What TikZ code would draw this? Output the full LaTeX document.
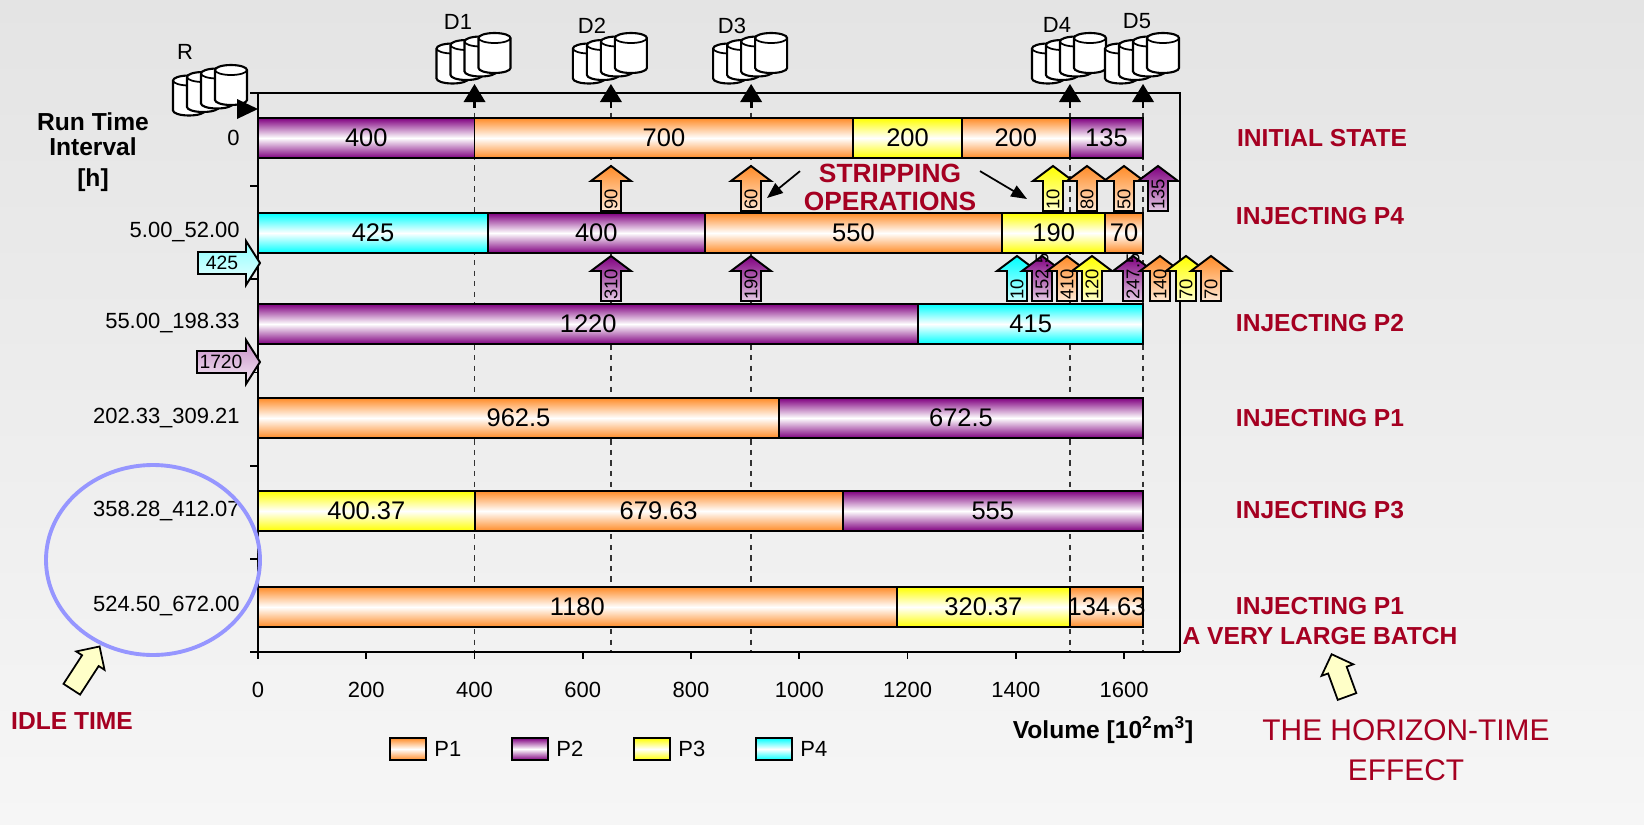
\documentclass[tikz,border=0pt]{standalone}
\usepackage{fontspec}
\setmainfont{Liberation Sans}
\usetikzlibrary{shapes,arrows.meta}

\definecolor{pone}{RGB}{255,140,40}
\definecolor{ptwo}{RGB}{128,0,128}
\definecolor{pthree}{RGB}{255,255,0}
\definecolor{pfour}{RGB}{0,255,255}
\definecolor{darkred}{RGB}{165,0,33}
\definecolor{ringblue}{RGB}{150,150,255}
\definecolor{paleyellow}{RGB}{255,255,200}
\definecolor{bgtop}{RGB}{228,228,228}
\definecolor{bgbottom}{RGB}{246,246,246}

\newcommand{\strip}[5]{%
  \draw[strip=#4] (#2,#3) -- ++(20,15) -- ++(-10,0) -- ++(0,30) -- ++(-20,0) -- ++(0,-30) -- ++(-10,0) -- cycle;
  \node[striplbl] (#1) at (#2,#3+44) {#5};
}

\tikzset{tank/.pic={
  \foreach \k in {3,2,1,0} {
    \draw[line width=1.2pt, fill=white, shift={(-14*\k,3.5*\k)}] (-16,0) -- (-16,-30) arc[start angle=180, end angle=360, x radius=16, y radius=5] -- (16,0) arc[start angle=0, end angle=180, x radius=16, y radius=5] -- cycle;
    \draw[line width=1pt, shift={(-14*\k,3.5*\k)}] (-16,-30) arc[start angle=180, end angle=0, x radius=16, y radius=5];
  }
}}

\begin{document}
\begin{tikzpicture}[x=0.02cm, y=-0.02cm,
  batch/.style={draw=black, line width=1.1pt, top color=#1, bottom color=#1, middle color=white},
  strip/.style={draw=black, line width=1.1pt, top color=#1, bottom color=#1!20},
  inject/.style={draw=black, line width=1.1pt, top color=#1!45, bottom color=#1!8},
  gridline/.style={dashed, line width=1pt, black!80},
  striplbl/.style={rotate=90, anchor=west, inner sep=0pt, font=\fontsize{10.5}{12}\selectfont},
  injectlbl/.style={inner sep=0pt, font=\fontsize{11}{12}\selectfont},
  barlbl/.style={inner sep=0pt, font=\fontsize{14.5}{16}\selectfont},
  rowlbl/.style={anchor=east, inner sep=0pt, font=\fontsize{12.5}{14}\selectfont},
  ticklbl/.style={inner sep=0pt, font=\fontsize{12.5}{14}\selectfont},
  depotlbl/.style={inner sep=0pt, font=\fontsize{12.5}{15}\selectfont},
  legendlbl/.style={anchor=west, inner sep=0pt, font=\fontsize{12.5}{14}\selectfont},
  statelbl/.style={text=darkred, align=center, inner sep=0pt, font=\bfseries\fontsize{14}{17}\selectfont},
  axistitle/.style={align=center, inner sep=0pt, font=\bfseries\fontsize{14}{14}\selectfont},
  blockarrow/.style={single arrow, draw=black, line width=1pt, fill=paleyellow, inner sep=0.18cm, single arrow head extend=0.14cm, minimum height=1.02cm},
  notearrow/.style={-{Triangle[length=9pt,width=7pt]}, line width=1pt}]

  \shade[top color=bgtop, bottom color=bgbottom] (0,0) rectangle (1644,825);
  \useasboundingbox (0,0) rectangle (1644,825);

  \foreach \v in {400,652,911,1500,1635}
    \draw[gridline] ({258+0.5413*\v},102) -- ({258+0.5413*\v},652);

  \draw[line width=0.8pt] (258,93) -- (1180,93) -- (1180,652);
  \draw[line width=1.6pt] (258,93) -- (258,652) -- (1180,652);
  \foreach \k in {0,...,6}
    \draw[line width=1pt] (258,{93+93.17*\k}) -- ++(-8,0);

  \pic at (231,100) {tank};
  \fill (258,109) -- ++(-21,-10) -- ++(0,20) -- cycle;
  \node[depotlbl] (lblR) at (185,52) {R};
  \foreach \v/\n/\lx/\ly in {400/D1/458/22, 652/D2/592/26, 911/D3/732/26, 1500/D4/1057/25, 1635/D5/1137/21} {
    \pic at ({278+0.5413*\v},68) {tank};
    \fill ({258+0.5413*\v},84) -- ++(11,18) -- ++(-22,0) -- cycle;
    \draw[line width=1.6pt] ({258+0.5413*\v},100) -- ++(0,8);
    \node[depotlbl] (lbl\n) at (\lx,\ly) {\n};
  }

  \foreach \y/\segs [count=\i] in {
      118/{0/400/ptwo/400, 400/1100/pone/700, 1100/1300/pthree/200, 1300/1500/pone/200, 1500/1635/ptwo/135},
      213/{0/425/pfour/425, 425/825/ptwo/400, 825/1375/pone/550, 1375/1565/pthree/190, 1565/1635/pone/70},
      304/{0/1220/ptwo/1220, 1220/1635/pfour/415},
      398/{0/962.5/pone/962.5, 962.5/1635/ptwo/672.5},
      491/{0/400.37/pthree/400.37, 400.37/1080/pone/679.63, 1080/1635/ptwo/555},
      587/{0/1180/pone/1180, 1180/1500.37/pthree/320.37, 1500.37/1635/pone/134.63}}
    \foreach \ps/\pe/\col/\lbl [count=\j] in \segs {
      \draw[batch=\col] ({258+0.5413*\ps},\y) rectangle ({258+0.5413*\pe},\y+40);
      \node[barlbl] (bar\i-\j) at ({258+0.27065*(\ps+\pe)},\y+20) {\lbl};
    }

  \foreach \y/\lbl [count=\i] in {138/0, 232/5.00\_52.00, 323/55.00\_198.33, 418/202.33\_309.21, 511/358.28\_412.07, 606/524.50\_672.00}
    \node[rowlbl] (row\i) at (240,\y) {\lbl};

  \foreach \v [count=\k] in {0,200,...,1600} {
    \draw[line width=1pt] ({258+0.5413*\v},652) -- ++(0,7);
    \node[ticklbl] (tick\k) at ({258+0.5413*\v},690) {\v};
  }

  \strip{s0-1}{611}{166}{pone}{90}
  \strip{s0-2}{751}{166}{pone}{60}
  \strip{s0-3}{1053}{166}{pthree}{10}
  \strip{s0-4}{1087}{166}{pone}{80}
  \strip{s0-5}{1124}{166}{pone}{50}
  \strip{s0-6}{1158}{166}{ptwo}{135}

  \strip{s1-1}{611}{256}{ptwo}{310}
  \strip{s1-2}{751}{256}{ptwo}{190}
  \strip{s1-3}{1017}{256}{pfour}{10}
  \strip{s1-4}{1042}{256}{ptwo}{152.5}
  \strip{s1-5}{1067}{256}{pone}{410}
  \strip{s1-6}{1092}{256}{pthree}{120}
  \strip{s1-7}{1133}{256}{ptwo}{247.5}
  \strip{s1-8}{1160}{256}{pone}{140}
  \strip{s1-9}{1186}{256}{pthree}{70}
  \strip{s1-10}{1211}{256}{pone}{70}

  \draw[inject=pfour] (198,252) -- (246,252) -- (246,241) -- (260,263) -- (246,285) -- (246,274) -- (198,274) -- cycle;
  \node[injectlbl] (inj1) at (222,263) {425};
  \draw[inject=ptwo] (197,351) -- (246,351) -- (246,340) -- (260,362) -- (246,384) -- (246,373) -- (197,373) -- cycle;
  \node[injectlbl] (inj2) at (221,362) {1720};

  \node[text=darkred, align=center, inner sep=2pt, font=\bfseries\fontsize{15}{16}\selectfont] (stripnote) at (890,187) {STRIPPING\\OPERATIONS};
  \coordinate (hitL) at (767,198);
  \coordinate (hitR) at (1027,199);
  \draw[notearrow] (stripnote.170) -- (hitL);
  \draw[notearrow] (stripnote.10) -- (hitR);

  \node[statelbl] (st0) at (1322,138) {INITIAL STATE};
  \node[statelbl] (st1) at (1320,216) {INJECTING P4};
  \node[statelbl] (st2) at (1320,323) {INJECTING P2};
  \node[statelbl] (st3) at (1320,418) {INJECTING P1};
  \node[statelbl] (st4) at (1320,510) {INJECTING P3};
  \node[statelbl] (st5) at (1320,621) {INJECTING P1\\A VERY LARGE BATCH};

  \node[axistitle] (runtime) at (93,134) {Run Time\\Interval};
  \node[axistitle, below of=runtime, node distance=0.92cm] (hunit) {[h]};
  \node[axistitle] (voltitle) at (1103,730) {Volume [10\textsuperscript{2}m\textsuperscript{3}]};

  \foreach \x/\col/\lbl [count=\k] in {390/pone/P1, 512/ptwo/P2, 634/pthree/P3, 756/pfour/P4} {
    \draw[batch=\col] (\x,738) rectangle (\x+36,760);
    \node[legendlbl] (leg\k) at (\x+44,749) {\lbl};
  }

  \draw[ringblue, line width=2.2pt] (153,560) ellipse [x radius=107, y radius=95];
  \node[blockarrow, rotate=57] (idlearrow) at (83,672) {};
  \node[text=darkred, font=\bfseries\fontsize{14}{16}\selectfont] (idle) at (72,721) {IDLE TIME};

  \node[blockarrow, minimum height=0.9cm, rotate=110] (horizonarrow) at (1341,680) {};
  \node[text=darkred, align=center, font=\fontsize{17}{23}\selectfont] (horizon) at (1406,750) {THE HORIZON-TIME\\EFFECT};
\end{tikzpicture}
\end{document}
